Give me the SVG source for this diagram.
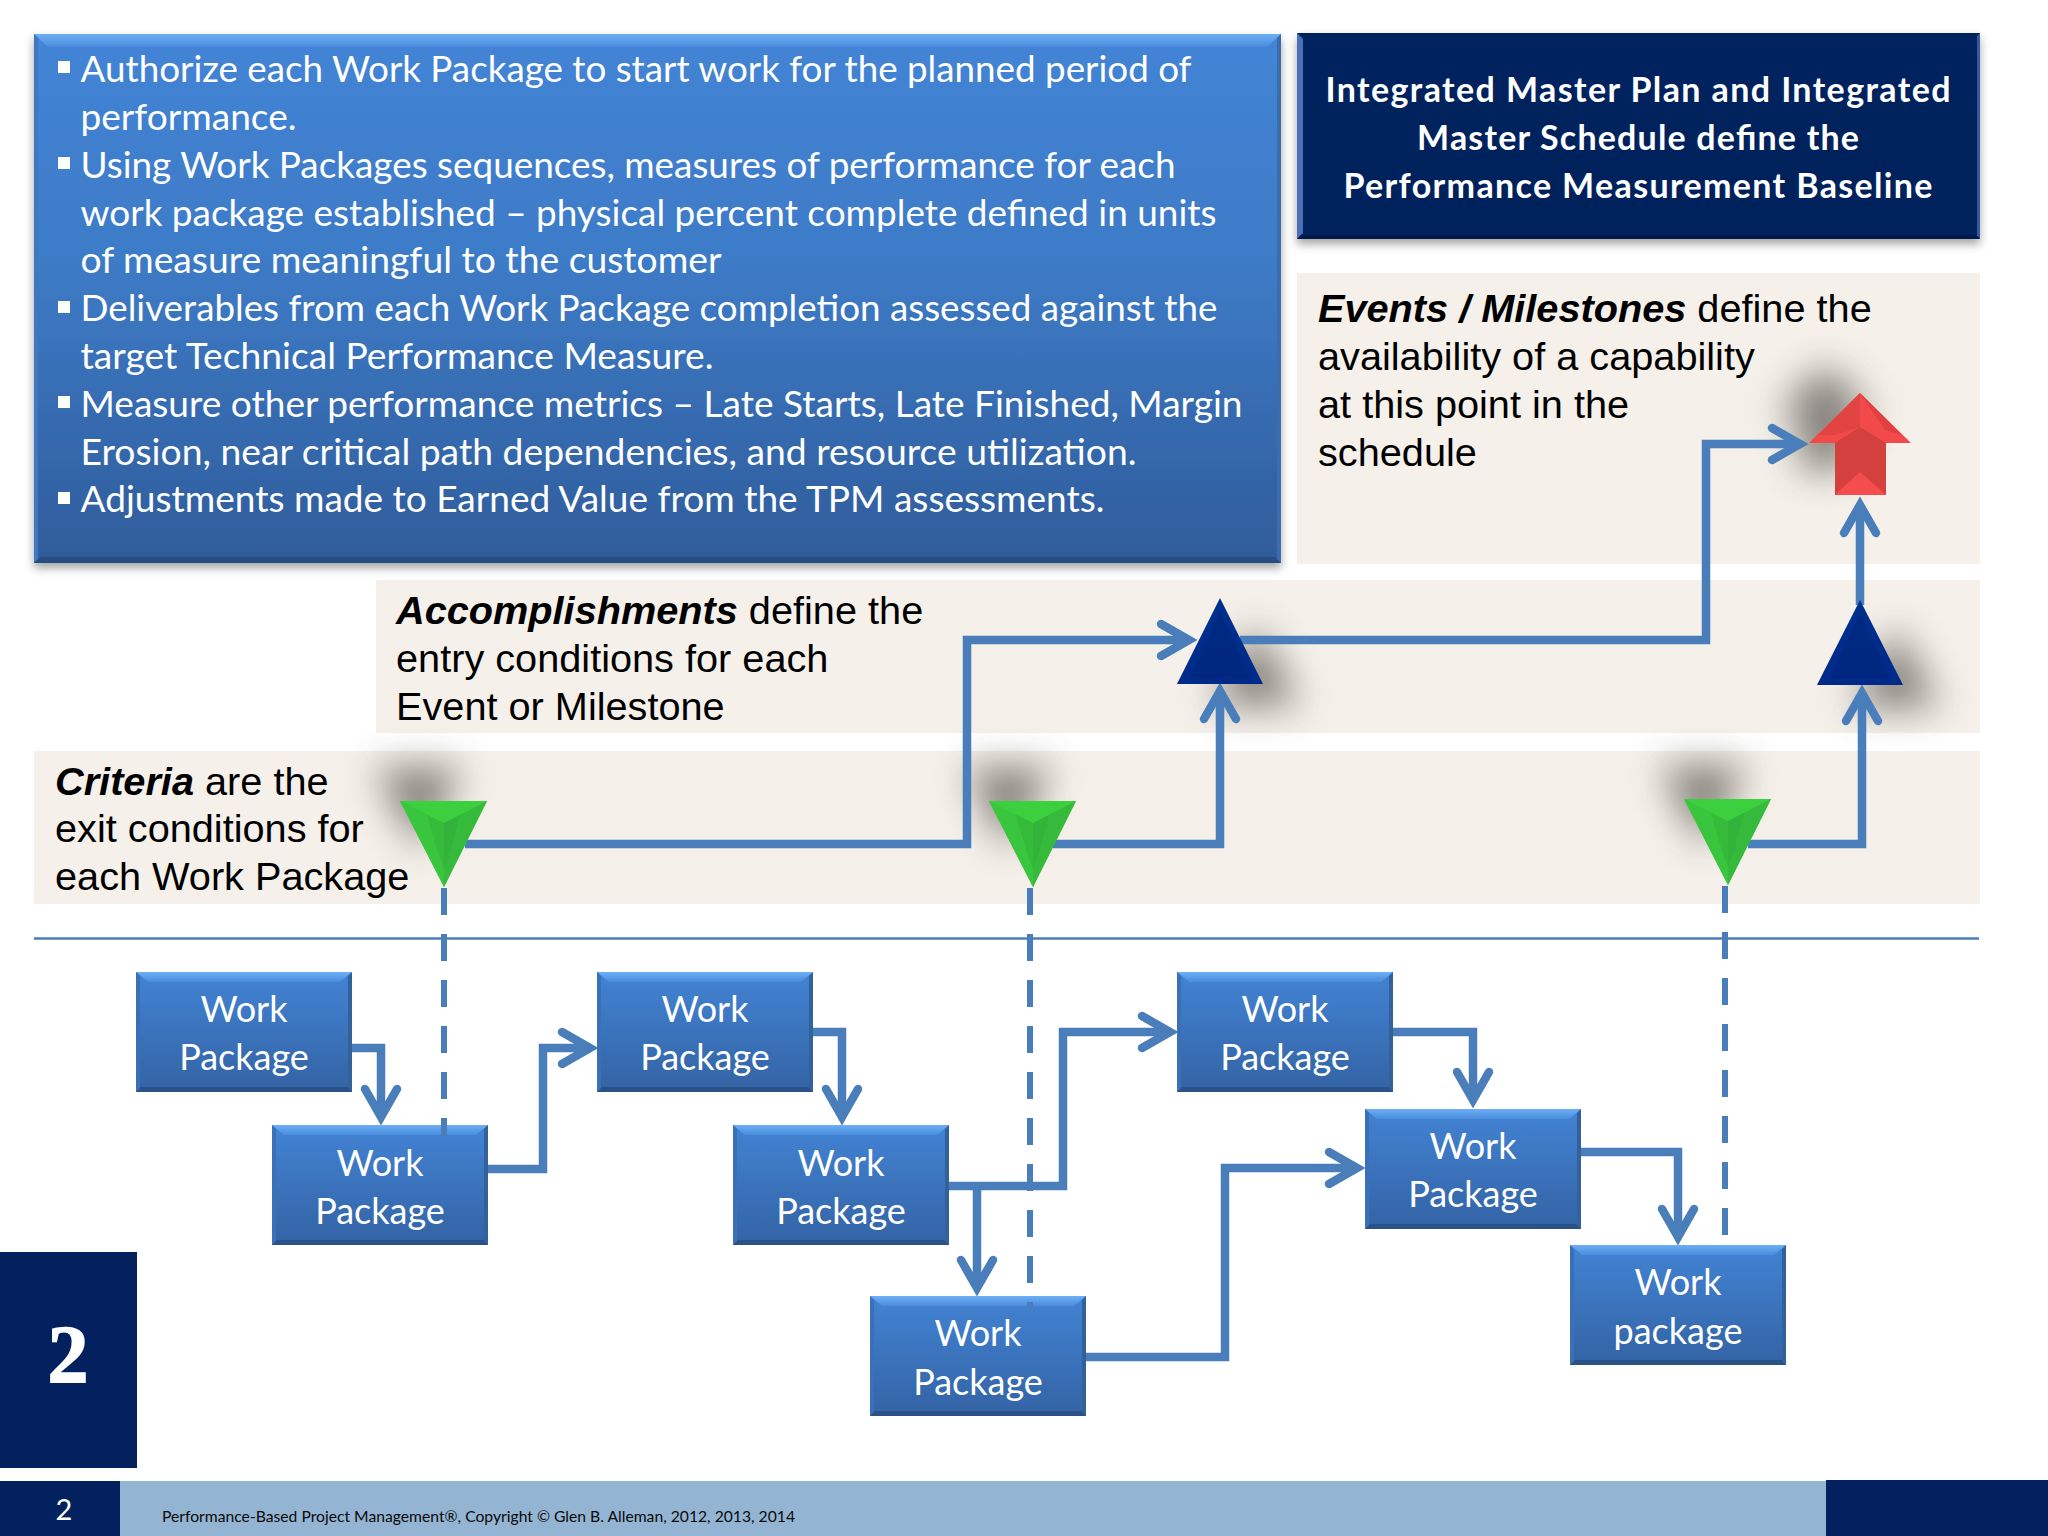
<svg xmlns="http://www.w3.org/2000/svg" width="2048" height="1536" viewBox="0 0 2048 1536">
<style>
.blt{font:36px Lato,"Liberation Sans",sans-serif;fill:#fff}
.hd{font:700 34px Lato,"Liberation Sans",sans-serif;fill:#fff;text-anchor:middle}
.lb{font:39.7px "Liberation Sans",Arial,sans-serif;fill:#000}
.lb tspan.b{font-weight:700;font-style:italic}
.wp{font:36px Lato,"Liberation Sans",sans-serif;fill:#fff;text-anchor:middle}
.band{fill:#f5f1ea}
.cn{fill:none;stroke:#4a7ebb;stroke-width:8.5;stroke-linejoin:miter}
.ar{marker-end:url(#open)}
.ds{fill:none;stroke:#4a7ebb;stroke-width:6;stroke-dasharray:27 19}
.sq{fill:#fff}
</style>
<defs>
<marker id="open" markerUnits="userSpaceOnUse" markerWidth="60" markerHeight="60" viewBox="-40 -30 60 60" refX="0" refY="0" orient="auto" overflow="visible">
<path d="M-26,-16 L2,0 L-26,16" fill="none" stroke="#4a7ebb" stroke-width="8.5" stroke-linecap="round"/>
</marker>
<linearGradient id="gBig" x1="0" y1="0" x2="0" y2="1"><stop offset="0" stop-color="#4384d6"/><stop offset="0.45" stop-color="#3d7ac6"/><stop offset="1" stop-color="#2f5c9a"/></linearGradient>
<linearGradient id="gWp" x1="0" y1="0" x2="0" y2="1"><stop offset="0" stop-color="#4283d4"/><stop offset="1" stop-color="#3363a4"/></linearGradient>
<linearGradient id="gTop" x1="0" y1="0" x2="0" y2="1"><stop offset="0" stop-color="#6db0f6"/><stop offset="1" stop-color="#4a8cdc"/></linearGradient>
<linearGradient id="gNavy" x1="0" y1="0" x2="0" y2="1"><stop offset="0" stop-color="#03235f"/><stop offset="1" stop-color="#03205a"/></linearGradient>
<linearGradient id="gTri" x1="0" y1="0" x2="0" y2="1"><stop offset="0" stop-color="#00308f"/><stop offset="1" stop-color="#002a8a"/></linearGradient>
<filter id="ds" x="-10%" y="-10%" width="120%" height="125%"><feDropShadow dx="0" dy="5" stdDeviation="5" flood-color="#000" flood-opacity="0.36"/></filter>
<filter id="blob" x="-100%" y="-100%" width="300%" height="300%"><feGaussianBlur stdDeviation="19"/></filter>
<g id="wpShape">
<rect width="216" height="120" fill="url(#gWp)"/>
<polygon points="0,0 216,0 204,10 12,10" fill="url(#gTop)"/>
<polygon points="0,120 216,120 212,115 4,115" fill="#2b5288"/>
<polygon points="0,0 4,4 4,116 0,120" fill="#3a70b5"/>
<polygon points="216,0 212,4 212,116 216,120" fill="#336199"/>
</g>
<g id="greenTri">
<polygon points="0,0 87,0 44,86" fill="#3cd03f"/>
<polygon points="0,0 44,22 44,86" fill="#39c53d"/>
<polygon points="87,0 44,22 44,86" fill="#35ba3b"/>
<polygon points="27,14 44,22 60,14 50,52 44,68 38,52" fill="#30a936" opacity="0.4"/>
</g>
</defs>
<rect width="2048" height="1536" fill="#fff"/>

<g id="bands">
<rect class="band" x="1297" y="273" width="683" height="291"/>
<rect class="band" x="376" y="580" width="1604" height="153"/>
<rect class="band" x="34" y="751" width="1946" height="153"/>
</g>

<g id="shadows" filter="url(#blob)" fill="#6c6762" opacity="0.85">
<polygon points="375,768 462,768 420,850"/>
<polygon points="965,768 1052,768 1008,850"/>
<polygon points="1660,766 1747,766 1703,848"/>
<polygon points="1255,625 1300,705 1212,705"/>
<polygon points="1895,627 1940,707 1852,707"/>
<polygon points="1825,365 1875,415 1850,415 1850,470 1800,470 1800,415 1775,415"/>
</g>

<line id="divider" x1="34" y1="938.5" x2="1979" y2="938.5" stroke="#4a7ebb" stroke-width="2.5"/>

<g id="connectors">
<path class="cn ar" d="M465,844 H967 V640 H1187"/>
<path class="cn ar" d="M1053,844 H1220 V693"/>
<path class="cn ar" d="M1240,640 H1706 V444 H1798"/>
<path class="cn ar" d="M1748,844 H1862 V695"/>
<path class="cn ar" d="M1860,605 V507"/>
<path class="cn ar" d="M352,1048 H381 V1115"/>
<path class="cn ar" d="M488,1169 H543 V1048 H588"/>
<path class="cn ar" d="M812,1032 H842 V1115"/>
<path class="cn ar" d="M949,1186 H1063 V1032 H1168"/>
<path class="cn ar" d="M977,1186 V1286"/>
<path class="cn ar" d="M1085,1357 H1225 V1168 H1355"/>
<path class="cn ar" d="M1393,1032 H1473 V1098"/>
<path class="cn ar" d="M1580,1152 H1678 V1235"/>
</g>

<g id="main-box">
<g filter="url(#ds)"><rect x="34" y="34" width="1247" height="529" fill="url(#gBig)"/></g>
<polygon points="34,34 1281,34 1267,47 48,47" fill="url(#gTop)"/>
<polygon points="34,563 1281,563 1275,557 40,557" fill="#274c80"/>
<polygon points="34,34 38,38 38,559 34,563" fill="#3f78bf"/>
<polygon points="1281,34 1277,38 1277,559 1281,563" fill="#3a6cae"/>
<g class="sq"><rect x="58" y="61" width="12" height="12"/><rect x="58" y="157" width="12" height="12"/><rect x="58" y="301" width="12" height="12"/><rect x="58" y="396" width="12" height="12"/><rect x="58" y="492" width="12" height="12"/></g>
<text class="blt" x="80.5" y="82" textLength="1111" lengthAdjust="spacingAndGlyphs">Authorize each Work Package to start work for the planned period of</text>
<text class="blt" x="80.5" y="130" textLength="216" lengthAdjust="spacingAndGlyphs">performance.</text>
<text class="blt" x="80.5" y="178" textLength="1095" lengthAdjust="spacingAndGlyphs">Using Work Packages sequences, measures of performance for each</text>
<text class="blt" x="80.5" y="226" textLength="1136" lengthAdjust="spacingAndGlyphs">work package established – physical percent complete defined in units</text>
<text class="blt" x="80.5" y="273" textLength="641" lengthAdjust="spacingAndGlyphs">of measure meaningful to the customer</text>
<text class="blt" x="80.5" y="321" textLength="1137" lengthAdjust="spacingAndGlyphs">Deliverables from each Work Package completion assessed against the</text>
<text class="blt" x="80.5" y="369" textLength="633" lengthAdjust="spacingAndGlyphs">target Technical Performance Measure.</text>
<text class="blt" x="80.5" y="417" textLength="1162" lengthAdjust="spacingAndGlyphs">Measure other performance metrics – Late Starts, Late Finished, Margin</text>
<text class="blt" x="80.5" y="464.5" textLength="1056" lengthAdjust="spacingAndGlyphs">Erosion, near critical path dependencies, and resource utilization.</text>
<text class="blt" x="80.5" y="512" textLength="1024" lengthAdjust="spacingAndGlyphs">Adjustments made to Earned Value from the TPM assessments.</text>
</g>

<g id="title-box">
<g filter="url(#ds)"><rect x="1297" y="33" width="683" height="206" fill="url(#gNavy)"/></g>
<polygon points="1297,33 1303,39 1303,233 1297,239" fill="#4a70b8"/>
<polygon points="1980,33 1977,36 1977,236 1980,239" fill="#3558a0"/>
<polygon points="1297,239 1980,239 1976,235 1301,235" fill="#011a4c"/>
<text class="hd" x="1638" y="102" textLength="625" lengthAdjust="spacing">Integrated Master Plan and Integrated</text>
<text class="hd" x="1638" y="150" textLength="442" lengthAdjust="spacing">Master Schedule define the</text>
<text class="hd" x="1638" y="198" textLength="589" lengthAdjust="spacing">Performance Measurement Baseline</text>
</g>

<g id="events-label">
<text class="lb" x="1318" y="321.5"><tspan class="b">Events / Milestones</tspan> define the</text>
<text class="lb" x="1318" y="369.5">availability of a capability</text>
<text class="lb" x="1318" y="417.5">at this point in the</text>
<text class="lb" x="1318" y="465.5">schedule</text>
</g>
<g id="accomplishments-label">
<text class="lb" x="396" y="624"><tspan class="b">Accomplishments</tspan> define the</text>
<text class="lb" x="396" y="671.5">entry conditions for each</text>
<text class="lb" x="396" y="719.5">Event or Milestone</text>
</g>
<g id="criteria-label">
<text class="lb" x="55" y="794.5"><tspan class="b">Criteria</tspan> are the</text>
<text class="lb" x="55" y="842">exit conditions for</text>
<text class="lb" x="55" y="890">each Work Package</text>
</g>

<g id="criteria-1"><use href="#greenTri" x="400" y="801"/></g>
<g id="criteria-2"><use href="#greenTri" x="989" y="801"/></g>
<g id="criteria-3"><use href="#greenTri" x="1684" y="799"/></g>
<g id="accomplishment-1"><polygon points="1220,598 1263,684 1177,684" fill="url(#gTri)"/><polygon points="1220,610 1250,678 1190,678" fill="#00267a" opacity="0.6"/></g>
<g id="accomplishment-2"><polygon points="1860,600 1903,685 1817,685" fill="url(#gTri)"/><polygon points="1860,612 1890,679 1830,679" fill="#00267a" opacity="0.6"/></g>
<g id="event">
<polygon points="1860,393 1911,443 1886,443 1886,495 1835,495 1835,443 1809,443" fill="#f24a4a"/>
<polygon points="1860,393 1860,427 1835,435 1818,435" fill="#e24444"/>
<polygon points="1860,393 1885,430 1902,435" fill="#e04040"/>
<polygon points="1835,443 1860,427 1886,443 1886,495 1860,472 1835,495" fill="#d4403e"/>
<polygon points="1835,495 1860,472 1886,495" fill="#f54d4d"/>
</g>

<g id="wp-1"><use href="#wpShape" x="136" y="972"/><text class="wp" x="244" y="1022">Work</text><text class="wp" x="244" y="1070">Package</text></g>
<g id="wp-2"><use href="#wpShape" x="272" y="1125"/><text class="wp" x="380" y="1175.5">Work</text><text class="wp" x="380" y="1223.5">Package</text></g>
<g id="wp-3"><use href="#wpShape" x="597" y="972"/><text class="wp" x="705" y="1022">Work</text><text class="wp" x="705" y="1070">Package</text></g>
<g id="wp-4"><use href="#wpShape" x="733" y="1125"/><text class="wp" x="841" y="1175.5">Work</text><text class="wp" x="841" y="1223.5">Package</text></g>
<g id="wp-5"><use href="#wpShape" x="870" y="1296"/><text class="wp" x="978" y="1346">Work</text><text class="wp" x="978" y="1394.5">Package</text></g>
<g id="wp-6"><use href="#wpShape" x="1177" y="972"/><text class="wp" x="1285" y="1022">Work</text><text class="wp" x="1285" y="1070">Package</text></g>
<g id="wp-7"><use href="#wpShape" x="1365" y="1109"/><text class="wp" x="1473" y="1159">Work</text><text class="wp" x="1473" y="1207">Package</text></g>
<g id="wp-8"><use href="#wpShape" x="1570" y="1245"/><text class="wp" x="1678" y="1295">Work</text><text class="wp" x="1678" y="1343.5">package</text></g>

<g id="dashed-connectors">
<line class="ds" x1="444" y1="888" x2="444" y2="1136"/>
<line class="ds" x1="1030" y1="888" x2="1030" y2="1310"/>
<line class="ds" x1="1725" y1="886" x2="1725" y2="1247"/>
</g>

<g id="chapter-tab">
<rect x="0" y="1252" width="137" height="216" fill="#03215f"/>
<text x="68" y="1382" font-family="'Liberation Serif',serif" font-weight="700" font-size="82" fill="#fff" stroke="#fff" stroke-width="1.5" text-anchor="middle">2</text>
</g>
<g id="footer">
<rect x="0" y="1481" width="120" height="55" fill="#03215f"/>
<rect x="120" y="1481" width="1706" height="55" fill="#94b4d3"/>
<rect x="1826" y="1480" width="222" height="56" fill="#03215f"/>
<text x="64" y="1520" font-family="Lato,'Liberation Sans',sans-serif" font-size="29" fill="#fff" text-anchor="middle">2</text>
<text x="162" y="1521.5" font-family="Lato,'Liberation Sans',sans-serif" font-size="16" fill="#0a0a0a" textLength="633" lengthAdjust="spacingAndGlyphs">Performance-Based Project Management®, Copyright © Glen B. Alleman, 2012, 2013, 2014</text>
</g>
</svg>
